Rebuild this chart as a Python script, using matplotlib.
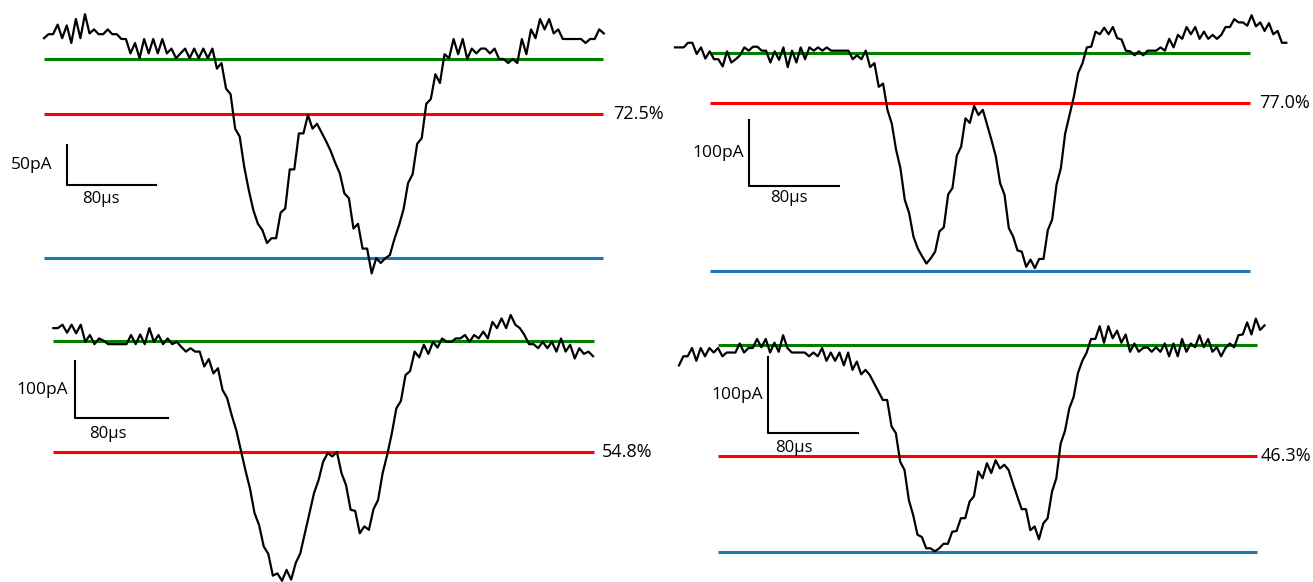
import numpy as np
import matplotlib.pyplot as plt

plt.rcParams['font.family'] = ['Open Sans', 'DejaVu Sans']

W, H = 1313, 582

# current traces in pA relative to the open-pore baseline (green line)
trace_1 = [26, 31, 31, 43, 26, 42, 20, 50, 26, 56,
           32, 37, 31, 31, 37, 31, 31, 25, 25, 7,
           20, 1, 25, 7, 25, 7, 25, 7, 13, 1,
           7, 13, 1, 13, 1, 13, 1, 13, -12, -5,
           -37, -44, -87, -97, -135, -164, -189, -206, -214, -230,
           -224, -224, -192, -187, -138, -138, -93, -93, -70, -87,
           -81, -92, -103, -115, -130, -143, -168, -174, -212, -206,
           -237, -237, -268, -249, -255, -249, -245, -225, -208, -188,
           -155, -144, -106, -99, -56, -50, -19, -30, 6, 1,
           25, 6, 25, 0, 13, 7, 13, 13, 7, 13,
           0, 0, -5, 0, -5, 25, 6, 37, 26, 50,
           37, 50, 32, 37, 25, 25, 25, 25, 25, 20,
           25, 25, 37, 32]

trace_2 = [9, 9, 9, 16, 16, -1, 9, -8, 3, -9,
           -9, -20, 3, -14, -9, -3, 9, 4, 10, 10,
           4, 4, -14, 3, -10, 9, -21, 4, -14, 9,
           -9, 9, 4, 9, 4, 9, 4, 4, 4, 4,
           4, -9, -3, -9, 4, -21, -15, -51, -46, -86,
           -107, -147, -175, -223, -243, -279, -297, -309, -320, -312,
           -302, -271, -265, -215, -205, -156, -142, -99, -106, -80,
           -94, -86, -109, -132, -157, -198, -215, -266, -279, -300,
           -302, -325, -314, -327, -313, -313, -269, -253, -200, -175,
           -122, -94, -66, -30, -15, 9, 10, 33, 29, 39,
           29, 40, 23, 21, 4, 3, -3, 3, -3, 4,
           4, 4, 9, 4, 22, 9, 28, 22, 40, 29,
           40, 22, 33, 22, 28, 22, 28, 40, 40, 52,
           47, 47, 42, 58, 41, 47, 34, 46, 29, 34,
           16, 16]

trace_3 = [23, 23, 29, 15, 29, 14, 29, -1, 11, -5,
           5, 1, -5, -5, -5, -5, -5, 11, -5, 12,
           -5, 23, -1, 11, -5, 5, -5, -1, -10, -18,
           -12, -18, -18, -44, -31, -56, -47, -85, -99, -129,
           -155, -190, -225, -257, -300, -321, -358, -371, -409, -405,
           -418, -399, -416, -387, -370, -335, -300, -265, -242, -210,
           -195, -201, -193, -230, -251, -294, -296, -335, -323, -329,
           -293, -277, -230, -198, -161, -117, -104, -59, -52, -18,
           -28, -6, -22, -1, -11, 5, -1, -1, 5, 5,
           11, -1, 11, 5, 17, 5, 34, 23, 40, 23,
           46, 29, 23, 11, -5, -5, -12, -1, -12, -1,
           -18, 5, -18, -6, -30, -12, -22, -18, -26]

trace_4 = [-27, -15, -15, -4, -21, -4, -15, -4, -10, -4,
           -15, -10, -10, -10, 2, -10, -4, -4, 8, -3,
           8, -10, 3, -9, 13, -4, -10, -10, -10, -10,
           -15, -10, -15, -4, -21, -10, -21, -10, -27, -10,
           -33, -22, -39, -33, -40, -51, -62, -73, -73, -108,
           -117, -155, -166, -206, -226, -252, -255, -270, -270, -274,
           -270, -264, -264, -248, -247, -230, -230, -208, -201, -168,
           -177, -157, -170, -153, -164, -159, -166, -184, -201, -218,
           -218, -246, -241, -258, -237, -230, -195, -177, -131, -114,
           -84, -69, -37, -21, -10, 8, 8, 25, 3, 25,
           9, 19, 3, 14, -9, 2, -9, -4, -3, -9,
           -3, -9, 2, -15, 2, -15, 8, -9, 2, -3,
           13, -3, 8, -9, -3, -15, -4, 2, -3, 13,
           14, 30, 14, 35, 20, 26]

traces = [trace_1, trace_2, trace_3, trace_4]
dt = [4.1, 3.84, 3.95, 3.855]            # sample interval, us
blue_level = [-249, -332, -426, -275]    # deepest blockade level, pA
percent = [72.5, 77.0, 54.8, 46.3]
scale_pa = [50, 100, 100, 100]
scale_us = 80

# extent of the level lines (us) and scale bar corner (us, pA)
line_span = [(0, 504), (31, 509), (0, 467), (35, 514)]
bar_origin = [(20.7, -157.5), (65.3, -201.5), (18.7, -134.4), (78.8, -116.5)]

# where each panel sits: x px of first sample, y px of baseline, px per us, px per pA
views = [(44, 59, 1.11, 0.8),
         (675, 53.3, 1.129, 0.657),
         (53.3, 341.3, 1.158, 0.573),
         (679, 345, 1.125, 0.753)]

# label offsets in pixels: pct gap, pA label gap, us label dx, us label dy
offsets = [(10, 14, 15, 14), (9, 5, 21, 12), (8, 7, 14, 16), (3, 5, 7, 15)]

fig = plt.figure(figsize=(W / 100, H / 100), dpi=100)

for k in range(4):
    x0, g, ppu, ppp = views[k]
    ax = fig.add_axes([0, 0, 1, 1])
    ax.set_xlim(-x0 / ppu, (W - x0) / ppu)
    ax.set_ylim((g - H) / ppp, g / ppp)
    ax.axis('off')

    tr = traces[k]
    t = np.arange(len(tr)) * dt[k]
    a, b = line_span[k]
    blue = blue_level[k]
    red = blue * (1 - percent[k] / 100)

    ax.plot([a, b], [0, 0], color='green', lw=2.2, solid_capstyle='butt')
    ax.plot([a, b], [red, red], color='red', lw=2.2, solid_capstyle='butt')
    ax.plot([a, b], [blue, blue], color='#1f77b4', lw=2.2, solid_capstyle='butt')
    ax.plot(t, tr, color='black', lw=1.6)

    gp, gy, dx, dy = offsets[k]
    ax.annotate(f'{percent[k]:.1f}%', xy=(b, red), xytext=(gp, 0),
                textcoords='offset pixels', ha='left', va='center', fontsize=13)

    bx, by = bar_origin[k]
    ax.plot([bx, bx, bx + scale_us], [by + scale_pa[k], by, by], color='black', lw=1.5)
    ax.annotate(f'{scale_pa[k]}pA', xy=(bx, by + scale_pa[k] / 2), xytext=(-gy, 0),
                textcoords='offset pixels', ha='right', va='center', fontsize=12.5)
    ax.annotate(f'{scale_us}µs', xy=(bx, by), xytext=(dx, -dy),
                textcoords='offset pixels', ha='left', va='center', fontsize=12)

plt.savefig('out.png', dpi=100)
